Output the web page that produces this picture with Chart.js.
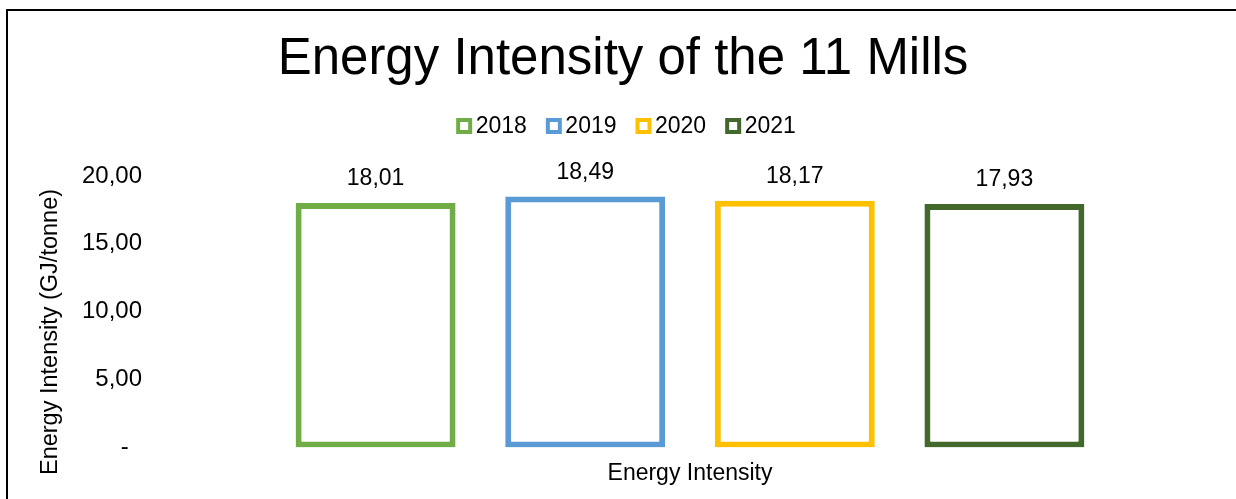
<!DOCTYPE html>
<html>
<head>
<meta charset="utf-8">
<title>Energy Intensity of the 11 Mills</title>
<script src="https://cdn.jsdelivr.net/npm/chart.js@4.4.1/dist/chart.umd.min.js"></script>
<style>
    html, body { margin: 0; padding: 0; background: #fff; overflow: hidden; }
    #wrap { position: relative; width: 1236px; height: 499px; }
    #frame {
        position: absolute; left: 6px; top: 9px; width: 1300px; height: 600px;
        border-left: 2px solid #000; border-top: 2px solid #000;
        pointer-events: none;
    }
    canvas { position: absolute; left: 0; top: 0; }
</style>
</head>
<body>
<div id="wrap">
    <canvas id="intensityChart" width="1236" height="499"></canvas>
    <div id="frame"></div>
</div>
<script>
// ---------------------------
// Data
// ---------------------------
const categories = ['Energy Intensity'];
const years = ['2018', '2019', '2020', '2021'];
const intensity = [18.01, 18.49, 18.17, 17.93];
const yTicks = [0, 5, 10, 15, 20];

const yearColors = ['#70AD47', '#5B9BD5', '#FFC000', '#43682B'];
const FONT = '"Liberation Sans", Arial, sans-serif';

const fmt = v => v.toFixed(2).replace('.', ',');

// ---------------------------
// Labels, legend, y title
// ---------------------------
const extrasPlugin = {
    id: 'extras',
    afterDatasetsDraw(chart) {
        const ctx = chart.ctx;
        ctx.save();
        ctx.font = `23px ${FONT}`;
        ctx.fillStyle = '#000';
        ctx.textAlign = 'center';
        ctx.textBaseline = 'middle';
        chart.data.datasets.forEach((ds, i) => {
            chart.getDatasetMeta(i).data.forEach((bar, j) => {
                ctx.fillText(fmt(ds.data[j]), bar.x, bar.y - 24);
            });
        });
        ctx.restore();
    },
    afterDraw(chart) {
        const ctx = chart.ctx;
        ctx.save();
        ctx.font = `23px ${FONT}`;
        ctx.fillStyle = '#000';
        ctx.textBaseline = 'middle';

        // legend: hollow squares + year
        const box = 16, gap = 3.5, spacing = 19, legendY = 126;
        const widths = years.map(y => box + gap + ctx.measureText(y).width);
        const total = widths.reduce((a, b) => a + b, 0) + spacing * (years.length - 1);
        let x = 626 - total / 2;
        years.forEach((y, i) => {
            ctx.strokeStyle = yearColors[i];
            ctx.lineWidth = 4;
            ctx.strokeRect(x + 2, legendY - box / 2 + 2, box - 4, box - 4);
            ctx.textAlign = 'left';
            ctx.fillText(y, x + box + gap, legendY + 1);
            x += widths[i] + spacing;
        });

        // y axis title
        ctx.font = `23.5px ${FONT}`;
        ctx.translate(51, 332);
        ctx.rotate(-Math.PI / 2);
        ctx.textAlign = 'center';
        ctx.fillText('Energy Intensity (GJ/tonne)', 0, 0);
        ctx.restore();
    }
};

// ---------------------------
// Chart
// ---------------------------
const canvas = document.getElementById('intensityChart');
new Chart(canvas.getContext('2d'), {
    type: 'bar',
    data: {
        labels: categories,
        datasets: years.map((y, i) => ({
            label: y,
            data: [intensity[i]],
            backgroundColor: '#FFFFFF',
            borderColor: yearColors[i],
            borderWidth: 6,
            borderSkipped: false,
            categoryPercentage: 0.8,
            barPercentage: 0.763
        }))
    },
    options: {
        responsive: false,
        animation: false,
        layout: { padding: { left: 32, right: 22, top: 0, bottom: 0 } },
        plugins: {
            legend: { display: false },
            tooltip: { enabled: false },
            title: {
                display: true,
                text: 'Energy Intensity of the 11 Mills',
                color: '#000',
                font: { family: FONT, size: 51, weight: 'normal' },
                padding: { top: 29, bottom: 85.8 }
            }
        },
        scales: {
            x: {
                grid: { display: false, drawTicks: false },
                border: { display: false },
                ticks: { color: '#000', font: { family: FONT, size: 23 }, padding: 12 }
            },
            y: {
                min: 0,
                max: 20,
                grid: { display: false, drawTicks: false },
                border: { display: false },
                afterFit(scale) { scale.width = 134; },
                afterBuildTicks(scale) { scale.ticks = yTicks.map(v => ({ value: v })); },
                ticks: {
                    color: '#000',
                    padding: 24,
                    font: { family: FONT, size: 24 },
                    callback: v => (v === 0 ? '-  ' : fmt(v))
                }
            }
        }
    },
    plugins: [extrasPlugin]
});
</script>
</body>
</html>
